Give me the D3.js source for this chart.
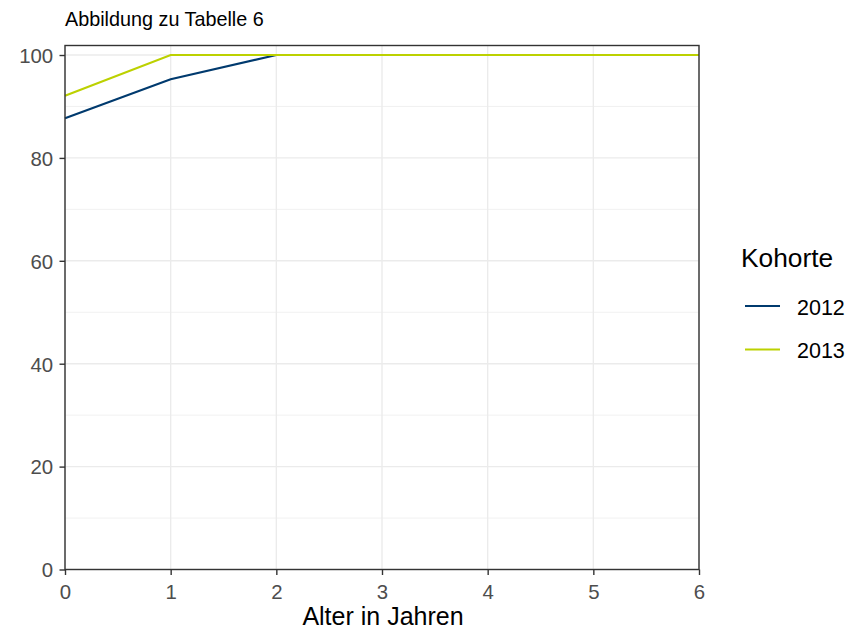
<!DOCTYPE html>
<html><head><meta charset="utf-8">
<script src="https://cdn.jsdelivr.net/npm/d3@7"></script>
<style>body{margin:0;background:#fff;} text{font-family:"Liberation Sans",Arial,sans-serif;}</style>
</head><body><svg id="c" width="867" height="634"></svg>
<script>
const ages = [0,1,2,3,4,5,6];
const series2012 = [87.7,95.3,100,100,100,100,100];
const series2013 = [92.1,100,100,100,100,100,100];
const cohorts = ["2012","2013"];
const colors = ["#003a6e","#bcd100"];
const yTicks = [0,20,40,60,80,100];
const yMinor = [10,30,50,70,90];
const xTicks = [0,1,2,3,4,5,6];

const svg = d3.select("#c");
const L=65, R=699, T=45.5, B=569.5;
const x = d3.scaleLinear().domain([0,6]).range([L,R]);
const y = d3.scaleLinear().domain([0,101.85]).range([B,T]);

const g = svg.append("g");
g.selectAll(".ymin").data(yMinor).enter().append("line")
 .attr("x1",L).attr("x2",R).attr("y1",d=>y(d)).attr("y2",d=>y(d))
 .attr("stroke","#ebebeb").attr("stroke-width",0.7);
g.selectAll(".ymaj").data(yTicks).enter().append("line")
 .attr("x1",L).attr("x2",R).attr("y1",d=>y(d)).attr("y2",d=>y(d))
 .attr("stroke","#ebebeb").attr("stroke-width",1.4);
g.selectAll(".xmaj").data(xTicks).enter().append("line")
 .attr("y1",T).attr("y2",B).attr("x1",d=>x(d)).attr("x2",d=>x(d))
 .attr("stroke","#ebebeb").attr("stroke-width",1.4);

const line = d3.line().x((d,i)=>x(ages[i])).y(d=>y(d));
[series2012,series2013].forEach((s,i)=>{
  g.append("path").datum(s).attr("d",line).attr("fill","none")
   .attr("stroke",colors[i]).attr("stroke-width",2.2);
});

g.append("rect").attr("x",L).attr("y",T).attr("width",R-L).attr("height",B-T)
 .attr("fill","none").attr("stroke","#333").attr("stroke-width",1.4);

const xa = svg.append("g").attr("transform",`translate(0,${B})`)
 .call(d3.axisBottom(x).tickValues(xTicks).tickFormat(d3.format("d")).tickSize(5.5).tickPadding(2));
const ya = svg.append("g").attr("transform",`translate(${L},0)`)
 .call(d3.axisLeft(y).tickValues(yTicks).tickFormat(d3.format("d")).tickSize(5.5).tickPadding(6.3));
[xa,ya].forEach(a=>{
  a.select(".domain").remove();
  a.attr("font-size",null).attr("font-family",null);
  a.selectAll(".tick line").attr("stroke","#333").attr("stroke-width",1.4);
  a.selectAll(".tick text").attr("fill","#4d4d4d").style("font-size","20.4px");
});
xa.selectAll(".tick text").attr("y",null).attr("dy",null).attr("y",29.3);
ya.selectAll(".tick text").attr("dy","0.36em");

svg.append("text").attr("x",L).attr("y",26).text("Abbildung zu Tabelle 6")
 .style("font-size","19.8px").attr("fill","#000");
svg.append("text").attr("x",(L+R)/2+1).attr("y",624.5).attr("text-anchor","middle")
 .text("Alter in Jahren").style("font-size","25px").attr("fill","#000");

const lg = svg.append("g");
lg.append("text").attr("x",741).attr("y",267).text("Kohorte").style("font-size","26.3px");
cohorts.forEach((c,i)=>{
  const yy = 306 + i*43.5;
  lg.append("line").attr("x1",745).attr("x2",780).attr("y1",yy).attr("y2",yy)
    .attr("stroke",colors[i]).attr("stroke-width",2.2);
  lg.append("text").attr("x",797).attr("y",yy+8.5).text(c).style("font-size","21.5px");
});
</script></body></html>
